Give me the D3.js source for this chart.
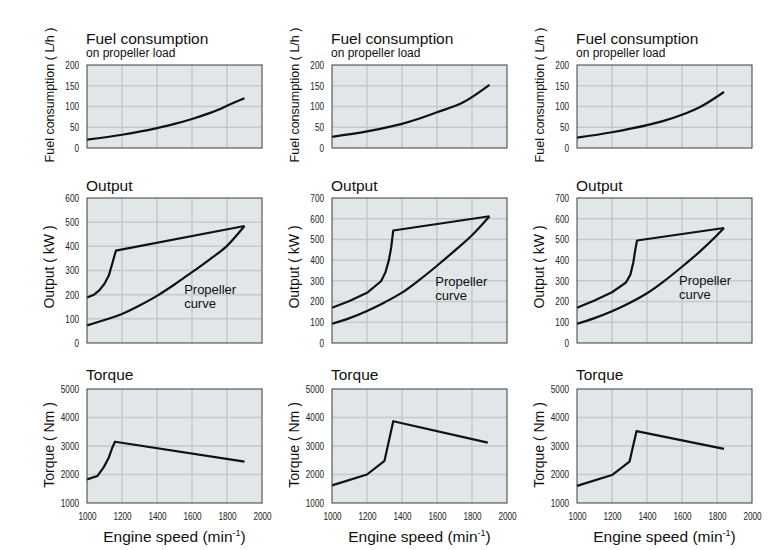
<!DOCTYPE html>
<html>
<head>
<meta charset="utf-8">
<script src="https://cdn.jsdelivr.net/npm/d3@7"></script>
<style>
	body { margin: 0; background: #fff; }
	svg text { font-family: "Liberation Sans", Arial, sans-serif; fill: #111; }
	.tick text { font-family: "Liberation Sans", Arial, sans-serif; font-size: 10.5px; fill: #222; }
</style>
</head>
<body>
<div id="chart"></div>
<script>
// axis ticks
var speedTicks = [1000, 1200, 1400, 1600, 1800, 2000];
var fuelTicks = [0, 50, 100, 150, 200];
var outputTicksA = [0, 100, 200, 300, 400, 500, 600];
var outputTicksB = [0, 100, 200, 300, 400, 500, 600, 700];
var torqueTicks = [1000, 2000, 3000, 4000, 5000];

// fuel consumption on propeller load [rpm, L/h]
var fuel1 = [[1000, 20], [1200, 32], [1400, 48], [1500, 58], [1600, 70], [1700, 84], [1750, 92], [1800, 102], [1900, 120]];
var fuel2 = [[1000, 27], [1200, 40], [1400, 58], [1500, 71], [1600, 86], [1750, 110], [1900, 152]];
var fuel3 = [[1000, 25], [1200, 38], [1400, 55], [1500, 66], [1600, 80], [1700, 98], [1840, 135]];

// max output [rpm, kW]
var output1 = [[1000, 188], [1040, 200], [1070, 218], [1100, 245], [1125, 280], [1145, 330], [1165, 382], [1900, 484]];
var output2 = [[1000, 170], [1100, 203], [1200, 242], [1280, 298], [1305, 340], [1325, 400], [1338, 460], [1350, 543], [1900, 612]];
var output3 = [[1000, 170], [1100, 205], [1200, 245], [1280, 292], [1305, 330], [1322, 390], [1333, 450], [1343, 495], [1840, 555]];

// propeller curve [rpm, kW]
var prop1 = [[1000, 73], [1100, 95], [1200, 120], [1300, 155], [1400, 195], [1500, 242], [1600, 293], [1700, 345], [1800, 402], [1900, 484]];
var prop2 = [[1000, 93], [1100, 120], [1200, 155], [1300, 196], [1400, 243], [1500, 305], [1600, 373], [1700, 445], [1800, 520], [1900, 612]];
var prop3 = [[1000, 93], [1100, 120], [1200, 153], [1300, 193], [1400, 240], [1500, 300], [1600, 368], [1700, 440], [1800, 520], [1840, 555]];

// torque [rpm, Nm]
var torque1 = [[1000, 1830], [1060, 1950], [1095, 2250], [1125, 2600], [1145, 2950], [1160, 3150], [1900, 2450]];
var torque2 = [[1000, 1620], [1200, 2000], [1300, 2480], [1350, 3870], [1890, 3120]];
var torque3 = [[1000, 1600], [1200, 1980], [1300, 2450], [1340, 3520], [1840, 2900]];

// where the "Propeller curve" note sits [rpm, kW]
var propLabel = [[1555, 203], [1590, 275], [1583, 280]];

var W = 768, H = 550;
var colLeft = [87, 332, 577];
var plotW = 175;
var rows = {
	fuel: { top: 65, height: 83 },
	output: { top: 198, height: 145 },
	torque: { top: 389, height: 114 }
};
var narrow = 0.78; // tick labels in the source use a condensed face

var svg = d3.select("#chart").append("svg")
	.attr("width", W)
	.attr("height", H);

function panel(left, row, yTicks, series, opts) {
	var g = svg.append("g").attr("transform", `translate(${left}, ${row.top})`);
	var x = d3.scaleLinear().domain([1000, 2000]).range([0, plotW]);
	var y = d3.scaleLinear().domain([yTicks[0], yTicks[yTicks.length - 1]]).range([row.height, 0]);

	// background
	g.append("rect")
		.attr("width", plotW)
		.attr("height", row.height)
		.attr("fill", "#e1e6e9");

	// grid
	g.append("g").selectAll("line").data(speedTicks.slice(1, -1)).join("line")
		.attr("x1", d => x(d)).attr("x2", d => x(d))
		.attr("y1", 0).attr("y2", row.height)
		.attr("stroke", "#c6c9cb").attr("stroke-width", 1.5);
	g.append("g").selectAll("line").data(yTicks.slice(1, -1)).join("line")
		.attr("y1", d => y(d)).attr("y2", d => y(d))
		.attr("x1", 0).attr("x2", plotW)
		.attr("stroke", "#c6c9cb").attr("stroke-width", 1.5);

	// y axis labels
	var ya = g.append("g").call(d3.axisLeft(y).tickValues(yTicks).tickFormat(d3.format("d")).tickSize(0).tickPadding(8 / narrow));
	ya.select(".domain").remove();
	ya.selectAll(".tick text").attr("transform", `scale(${narrow},1)`);

	if (opts.xLabels) {
		var xa = g.append("g")
			.attr("transform", `translate(0, ${row.height})`)
			.call(d3.axisBottom(x).tickValues(speedTicks).tickFormat(d3.format("d")).tickSize(0).tickPadding(10));
		xa.select(".domain").remove();
		xa.selectAll(".tick text").attr("transform", `scale(${narrow},1)`);

		var t = g.append("text")
			.attr("x", plotW / 2)
			.attr("y", row.height + 39)
			.attr("text-anchor", "middle")
			.attr("font-size", 15.5);
		t.append("tspan").text("Engine speed (min");
		t.append("tspan").text("-1").attr("font-size", 9).attr("dy", -6);
		t.append("tspan").text(")").attr("dy", 6);
	}

	// lines
	series.forEach(s => {
		var line = d3.line()
			.x(d => x(d[0]))
			.y(d => y(d[1]))
			.curve(s.curve || d3.curveLinear);
		g.append("path")
			.datum(s.data)
			.attr("d", line)
			.attr("fill", "none")
			.attr("stroke", "#111")
			.attr("stroke-width", 2.2)
			.attr("stroke-linejoin", "round");
	});

	// frame
	g.append("rect")
		.attr("width", plotW)
		.attr("height", row.height)
		.attr("fill", "none")
		.attr("stroke", "#3c3c3c")
		.attr("stroke-width", 1);

	// titles
	g.append("text")
		.attr("x", -1)
		.attr("y", opts.titleY)
		.attr("font-size", 15.5)
		.text(opts.title);
	if (opts.subtitle) {
		g.append("text")
			.attr("x", -1)
			.attr("y", opts.titleY + 13)
			.attr("font-size", 12)
			.text(opts.subtitle);
	}

	g.append("text")
		.attr("transform", `translate(-33, ${opts.yTitleY}) rotate(-90)`)
		.attr("text-anchor", "middle")
		.attr("font-size", opts.yTitleSize || 14)
		.text(opts.yTitle);

	if (opts.note) {
		var n = g.append("text")
			.attr("x", x(opts.note[0]))
			.attr("y", y(opts.note[1]))
			.attr("font-size", 13);
		n.append("tspan").text("Propeller");
		n.append("tspan").attr("x", x(opts.note[0])).attr("dy", 14).text("curve");
	}
}

var fuels = [fuel1, fuel2, fuel3];
var outputs = [output1, output2, output3];
var props = [prop1, prop2, prop3];
var torques = [torque1, torque2, torque3];

colLeft.forEach((left, i) => {
	panel(left, rows.fuel, fuelTicks,
		[{ data: fuels[i], curve: d3.curveMonotoneX }],
		{ title: "Fuel consumption", subtitle: "on propeller load", titleY: -21,
		  yTitle: "Fuel consumption ( L/h )", yTitleY: 30, yTitleSize: 12.5 });
	panel(left, rows.output, i == 0 ? outputTicksA : outputTicksB,
		[{ data: outputs[i] }, { data: props[i], curve: d3.curveMonotoneX }],
		{ title: "Output", titleY: -7, yTitle: "Output ( kW )", yTitleY: 69, note: propLabel[i] });
	panel(left, rows.torque, torqueTicks,
		[{ data: torques[i] }],
		{ title: "Torque", titleY: -9, yTitle: "Torque ( Nm )", yTitleY: 56, xLabels: true });
});
</script>
</body>
</html>
